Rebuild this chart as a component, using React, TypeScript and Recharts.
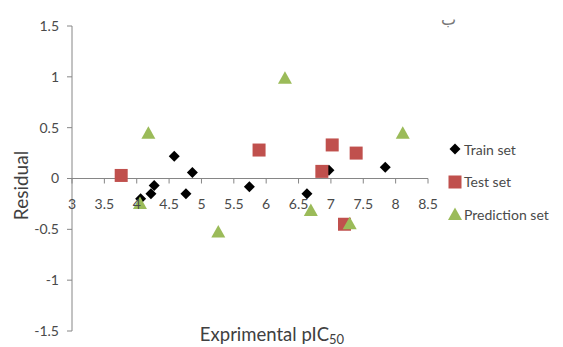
import {
  ScatterChart,
  Scatter,
  XAxis,
  YAxis,
  ReferenceLine,
  Label,
  Legend,
} from "recharts";

const trainX = [4.06, 4.22, 4.27, 4.58, 4.76, 4.86, 5.74, 6.63, 6.97, 7.84];
const trainY = [-0.2, -0.15, -0.07, 0.22, -0.15, 0.06, -0.08, -0.15, 0.08, 0.11];
const testX = [3.76, 5.89, 6.86, 7.02, 7.39, 7.21];
const testY = [0.03, 0.28, 0.07, 0.33, 0.25, -0.45];
const predX = [4.05, 4.18, 5.26, 6.29, 6.69, 7.29, 8.11];
const predY = [-0.25, 0.44, -0.53, 0.98, -0.32, -0.45, 0.44];

const xTicks = [3, 3.5, 4, 4.5, 5, 5.5, 6, 6.5, 7, 7.5, 8, 8.5];
const yTicks = [-1.5, -1, -0.5, 0, 0.5, 1, 1.5];

const seriesNames = ["Train set", "Test set", "Prediction set"];

const toPoints = (xs: number[], ys: number[]) =>
  xs.map((x, i) => ({ x, y: ys[i] }));

const trainData = toPoints(trainX, trainY);
const testData = toPoints(testX, testY);
const predData = toPoints(predX, predY);

const W = 563;
const H = 347;
const M = { top: 26, right: 135, bottom: 15, left: 12 };
const PLOT_H = H - M.top - M.bottom - 1;
const FONT = "Lato, 'Open Sans', sans-serif";
const AXIS = "#868686";
const TEXT = "#4a4a4a";

const Diamond = ({ cx, cy }: any) => (
  <polygon
    points={`${cx},${cy - 5.5} ${cx + 5.5},${cy} ${cx},${cy + 5.5} ${cx - 5.5},${cy}`}
    fill="#000"
  />
);
const Square = ({ cx, cy }: any) => (
  <rect x={cx - 6.5} y={cy - 6.5} width={13} height={13} fill="#C0504D" />
);
const Triangle = ({ cx, cy }: any) => (
  <polygon
    points={`${cx},${cy - 7.5} ${cx + 7},${cy + 5} ${cx - 7},${cy + 5}`}
    fill="#9BBB59"
  />
);

// x axis sits on y = 0, so ticks are drawn shifted up from the plot bottom
const XTick = ({ x, y, payload }: any) => {
  const zeroY = y - PLOT_H / 2;
  return (
    <g>
      <line x1={x} x2={x} y1={zeroY} y2={zeroY + 5} stroke={AXIS} />
      <text
        x={x}
        y={zeroY + 30}
        textAnchor="middle"
        fill={TEXT}
        fontSize={14}
        fontFamily={FONT}
      >
        {payload.value}
      </text>
    </g>
  );
};

const legendIcons = [
  <Diamond cx={7} cy={7} />,
  <Square cx={7} cy={7} />,
  <Triangle cx={7} cy={8} />,
];

const LegendBox = () => (
  <div style={{ fontFamily: FONT, fontSize: 14, color: TEXT }}>
    {seriesNames.map((name, i) => (
      <div
        key={name}
        style={{ display: "flex", alignItems: "center", height: 32.5 }}
      >
        <svg width={14} height={14} style={{ marginRight: 2 }}>
          {legendIcons[i]}
        </svg>
        <span>{name}</span>
      </div>
    ))}
  </div>
);

export default function App() {
  return (
    <div style={{ position: "absolute", left: 0, top: 0, width: W, height: H }}>
      <ScatterChart width={W} height={H} margin={M}>
        <XAxis
          type="number"
          dataKey="x"
          domain={[3, 8.5]}
          ticks={xTicks}
          interval={0}
          height={1}
          axisLine={false}
          tickLine={false}
          tickSize={0}
          tickMargin={0}
          tick={<XTick />}
        >
          <Label
            content={({ viewBox }: any) => (
              <text
                x={viewBox.x + viewBox.width / 2 + 22}
                y={341}
                textAnchor="middle"
                fill="#404040"
                fontSize={18.5}
                fontFamily={FONT}
              >
                Exprimental pIC
                <tspan fontSize={13} dy={3}>
                  50
                </tspan>
              </text>
            )}
          />
        </XAxis>
        <YAxis
          type="number"
          dataKey="y"
          domain={[-1.5, 1.5]}
          ticks={yTicks}
          interval={0}
          width={60}
          stroke={AXIS}
          tickSize={5}
          tickMargin={8}
          tick={{ fill: TEXT, fontSize: 14, fontFamily: FONT }}
        >
          <Label
            content={({ viewBox }: any) => {
              const lx = viewBox.x + 16;
              const ly = viewBox.y + viewBox.height / 2 + 7;
              return (
                <text
                  x={lx}
                  y={ly}
                  transform={`rotate(-90 ${lx} ${ly})`}
                  textAnchor="middle"
                  fill="#404040"
                  fontSize={19}
                  fontFamily={FONT}
                >
                  Residual
                </text>
              );
            }}
          />
        </YAxis>
        <ReferenceLine y={0} stroke={AXIS} />
        <Scatter
          name={seriesNames[0]}
          data={trainData}
          shape={<Diamond />}
          isAnimationActive={false}
        />
        <Scatter
          name={seriesNames[1]}
          data={testData}
          shape={<Square />}
          isAnimationActive={false}
        />
        <Scatter
          name={seriesNames[2]}
          data={predData}
          shape={<Triangle />}
          isAnimationActive={false}
        />
        <Legend
          layout="vertical"
          align="center"
          verticalAlign="middle"
          content={<LegendBox />}
          wrapperStyle={{ left: 448, top: 133, width: 115 }}
        />
      </ScatterChart>
      <div
        style={{
          position: "absolute",
          left: 441,
          top: 10,
          fontSize: 16,
          lineHeight: "20px",
          color: "#777",
          fontFamily: "'DejaVu Sans', sans-serif",
        }}
      >
        ب
      </div>
    </div>
  );
}
